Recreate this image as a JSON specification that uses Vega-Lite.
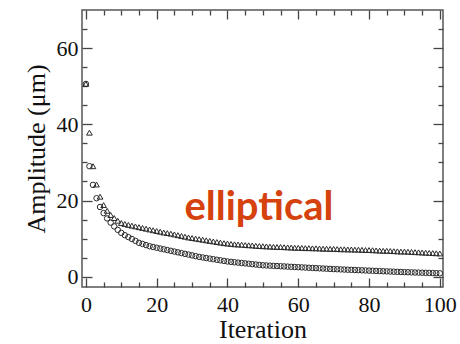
{
  "$schema": "https://vega.github.io/schema/vega-lite/v6.json",
  "autosize": "none",
  "width": 361,
  "height": 277,
  "padding": {"left": 82, "top": 10, "right": 17, "bottom": 57},
  "background": "white",
  "config": {
    "view": {"stroke": "#555", "strokeWidth": 1.5},
    "axis": {
      "domain": false,
      "grid": false,
      "labelFont": "Liberation Serif",
      "labelFontSize": 22,
      "labelColor": "#111",
      "titleFont": "Liberation Serif",
      "titleFontSize": 26,
      "titleFontWeight": "normal",
      "titleColor": "#111",
      "tickColor": "#444",
      "tickWidth": 1.3
    }
  },
  "datasets": {
    "circ": [
      {"i":0,"v":50.6},{"i":1,"v":29.0},{"i":2,"v":24.1},{"i":3,"v":20.6},{"i":4,"v":18.3},{"i":5,"v":16.7},{"i":6,"v":15.3},{"i":7,"v":14.2},{"i":8,"v":13.2},{"i":9,"v":12.3},
      {"i":10,"v":11.5},{"i":11,"v":10.9},{"i":12,"v":10.4},{"i":13,"v":9.9},{"i":14,"v":9.4},{"i":15,"v":8.9},{"i":16,"v":8.6},{"i":17,"v":8.3},{"i":18,"v":8.0},{"i":19,"v":7.8},
      {"i":20,"v":7.6},{"i":21,"v":7.4},{"i":22,"v":7.2},{"i":23,"v":7.0},{"i":24,"v":6.8},{"i":25,"v":6.6},{"i":26,"v":6.4},{"i":27,"v":6.2},{"i":28,"v":6.0},{"i":29,"v":5.8},
      {"i":30,"v":5.6},{"i":31,"v":5.4},{"i":32,"v":5.2},{"i":33,"v":5.05},{"i":34,"v":4.9},{"i":35,"v":4.75},{"i":36,"v":4.6},{"i":37,"v":4.45},{"i":38,"v":4.3},{"i":39,"v":4.15},
      {"i":40,"v":4.0},{"i":41,"v":3.9},{"i":42,"v":3.8},{"i":43,"v":3.7},{"i":44,"v":3.6},{"i":45,"v":3.5},{"i":46,"v":3.4},{"i":47,"v":3.3},{"i":48,"v":3.2},{"i":49,"v":3.1},
      {"i":50,"v":3.0},{"i":51,"v":2.95},{"i":52,"v":2.9},{"i":53,"v":2.85},{"i":54,"v":2.8},{"i":55,"v":2.75},{"i":56,"v":2.7},{"i":57,"v":2.65},{"i":58,"v":2.6},{"i":59,"v":2.55},
      {"i":60,"v":2.5},{"i":61,"v":2.45},{"i":62,"v":2.4},{"i":63,"v":2.35},{"i":64,"v":2.3},{"i":65,"v":2.25},{"i":66,"v":2.2},{"i":67,"v":2.15},{"i":68,"v":2.1},{"i":69,"v":2.05},
      {"i":70,"v":2.0},{"i":71,"v":1.96},{"i":72,"v":1.92},{"i":73,"v":1.88},{"i":74,"v":1.84},{"i":75,"v":1.8},{"i":76,"v":1.76},{"i":77,"v":1.72},{"i":78,"v":1.68},{"i":79,"v":1.64},
      {"i":80,"v":1.6},{"i":81,"v":1.56},{"i":82,"v":1.52},{"i":83,"v":1.48},{"i":84,"v":1.44},{"i":85,"v":1.4},{"i":86,"v":1.36},{"i":87,"v":1.32},{"i":88,"v":1.28},{"i":89,"v":1.24},
      {"i":90,"v":1.2},{"i":91,"v":1.17},{"i":92,"v":1.14},{"i":93,"v":1.11},{"i":94,"v":1.08},{"i":95,"v":1.05},{"i":96,"v":1.02},{"i":97,"v":0.99},{"i":98,"v":0.96},{"i":99,"v":0.93},
      {"i":100,"v":0.9}
    ],
    "tri": [
      {"i":0,"v":50.6},{"i":1,"v":37.8},{"i":2,"v":29.0},{"i":3,"v":24.2},{"i":4,"v":21.0},{"i":5,"v":18.8},{"i":6,"v":17.3},{"i":7,"v":16.2},{"i":8,"v":15.4},{"i":9,"v":14.7},
      {"i":10,"v":14.1},{"i":11,"v":13.85},{"i":12,"v":13.6},{"i":13,"v":13.4},{"i":14,"v":13.2},{"i":15,"v":13.0},{"i":16,"v":12.8},{"i":17,"v":12.6},{"i":18,"v":12.4},{"i":19,"v":12.2},
      {"i":20,"v":12.0},{"i":21,"v":11.8},{"i":22,"v":11.6},{"i":23,"v":11.45},{"i":24,"v":11.3},{"i":25,"v":11.1},{"i":26,"v":10.9},{"i":27,"v":10.7},{"i":28,"v":10.5},{"i":29,"v":10.3},
      {"i":30,"v":10.15},{"i":31,"v":10.0},{"i":32,"v":9.85},{"i":33,"v":9.7},{"i":34,"v":9.55},{"i":35,"v":9.4},{"i":36,"v":9.25},{"i":37,"v":9.1},{"i":38,"v":8.95},{"i":39,"v":8.8},
      {"i":40,"v":8.7},{"i":41,"v":8.6},{"i":42,"v":8.5},{"i":43,"v":8.45},{"i":44,"v":8.4},{"i":45,"v":8.3},{"i":46,"v":8.25},{"i":47,"v":8.2},{"i":48,"v":8.1},{"i":49,"v":8.05},
      {"i":50,"v":8.0},{"i":51,"v":7.95},{"i":52,"v":7.9},{"i":53,"v":7.85},{"i":54,"v":7.8},{"i":55,"v":7.8},{"i":56,"v":7.75},{"i":57,"v":7.7},{"i":58,"v":7.65},{"i":59,"v":7.6},
      {"i":60,"v":7.6},{"i":61,"v":7.55},{"i":62,"v":7.5},{"i":63,"v":7.5},{"i":64,"v":7.45},{"i":65,"v":7.45},{"i":66,"v":7.4},{"i":67,"v":7.35},{"i":68,"v":7.35},{"i":69,"v":7.3},
      {"i":70,"v":7.3},{"i":71,"v":7.25},{"i":72,"v":7.2},{"i":73,"v":7.2},{"i":74,"v":7.15},{"i":75,"v":7.15},{"i":76,"v":7.1},{"i":77,"v":7.1},{"i":78,"v":7.05},{"i":79,"v":7.0},
      {"i":80,"v":7.0},{"i":81,"v":6.95},{"i":82,"v":6.9},{"i":83,"v":6.85},{"i":84,"v":6.8},{"i":85,"v":6.8},{"i":86,"v":6.75},{"i":87,"v":6.7},{"i":88,"v":6.65},{"i":89,"v":6.6},
      {"i":90,"v":6.6},{"i":91,"v":6.55},{"i":92,"v":6.5},{"i":93,"v":6.45},{"i":94,"v":6.4},{"i":95,"v":6.35},{"i":96,"v":6.3},{"i":97,"v":6.25},{"i":98,"v":6.2},{"i":99,"v":6.15},
      {"i":100,"v":6.1}
    ],
    "note": [{"label": "elliptical"}]
  },
  "layer": [
    {
      "data": {"name": "circ"},
      "mark": {"type": "point", "shape": "circle", "filled": false, "size": 30, "stroke": "#2a2a2a", "strokeWidth": 1, "opacity": 1},
      "encoding": {
        "x": {
          "field": "i", "type": "quantitative",
          "scale": {"domain": [-1.1, 100.9], "nice": false, "zero": false},
          "axis": {
            "orient": "bottom",
            "title": "Iteration",
            "values": [0,5,10,15,20,25,30,35,40,45,50,55,60,65,70,75,80,85,90,95,100],
            "labelExpr": "datum.value % 20 === 0 ? datum.label : ''",
            "tickSize": {"condition": {"test": "datum.value % 20 === 0", "value": -9}, "value": -5},
            "labelPadding": 16,
            "titlePadding": 1
          }
        },
        "y": {
          "field": "v", "type": "quantitative",
          "scale": {"domain": [-2.7, 70], "nice": false, "zero": false},
          "axis": {
            "orient": "left",
            "title": "Amplitude (μm)",
            "values": [0,5,10,15,20,25,30,35,40,45,50,55,60,65],
            "labelExpr": "datum.value % 20 === 0 ? datum.label : ''",
            "tickSize": {"condition": {"test": "datum.value % 20 === 0", "value": -10}, "value": -5},
            "labelPadding": 14,
            "titlePadding": 7
          }
        }
      }
    },
    {
      "data": {"name": "tri"},
      "mark": {"type": "point", "shape": "triangle-up", "filled": false, "size": 32, "stroke": "#2a2a2a", "strokeWidth": 1, "opacity": 1},
      "encoding": {
        "x": {
          "field": "i", "type": "quantitative",
          "axis": {
            "orient": "top",
            "title": null,
            "labels": false,
            "values": [0,5,10,15,20,25,30,35,40,45,50,55,60,65,70,75,80,85,90,95,100],
            "tickSize": {"condition": {"test": "datum.value % 20 === 0", "value": -9}, "value": -5}
          }
        },
        "y": {
          "field": "v", "type": "quantitative",
          "axis": {
            "orient": "right",
            "title": null,
            "labels": false,
            "values": [0,5,10,15,20,25,30,35,40,45,50,55,60,65],
            "tickSize": {"condition": {"test": "datum.value % 20 === 0", "value": -10}, "value": -5}
          }
        }
      }
    },
    {
      "data": {"name": "note"},
      "mark": {"type": "text", "font": "Lato", "fontWeight": "bold", "fontSize": 40, "fill": "#D5420E", "align": "center", "baseline": "alphabetic"},
      "encoding": {
        "text": {"field": "label"},
        "x": {"datum": 48.9, "type": "quantitative", "axis": null},
        "y": {"datum": 14.9, "type": "quantitative", "axis": null}
      }
    }
  ],
  "resolve": {"axis": {"x": "independent", "y": "independent"}}
}
